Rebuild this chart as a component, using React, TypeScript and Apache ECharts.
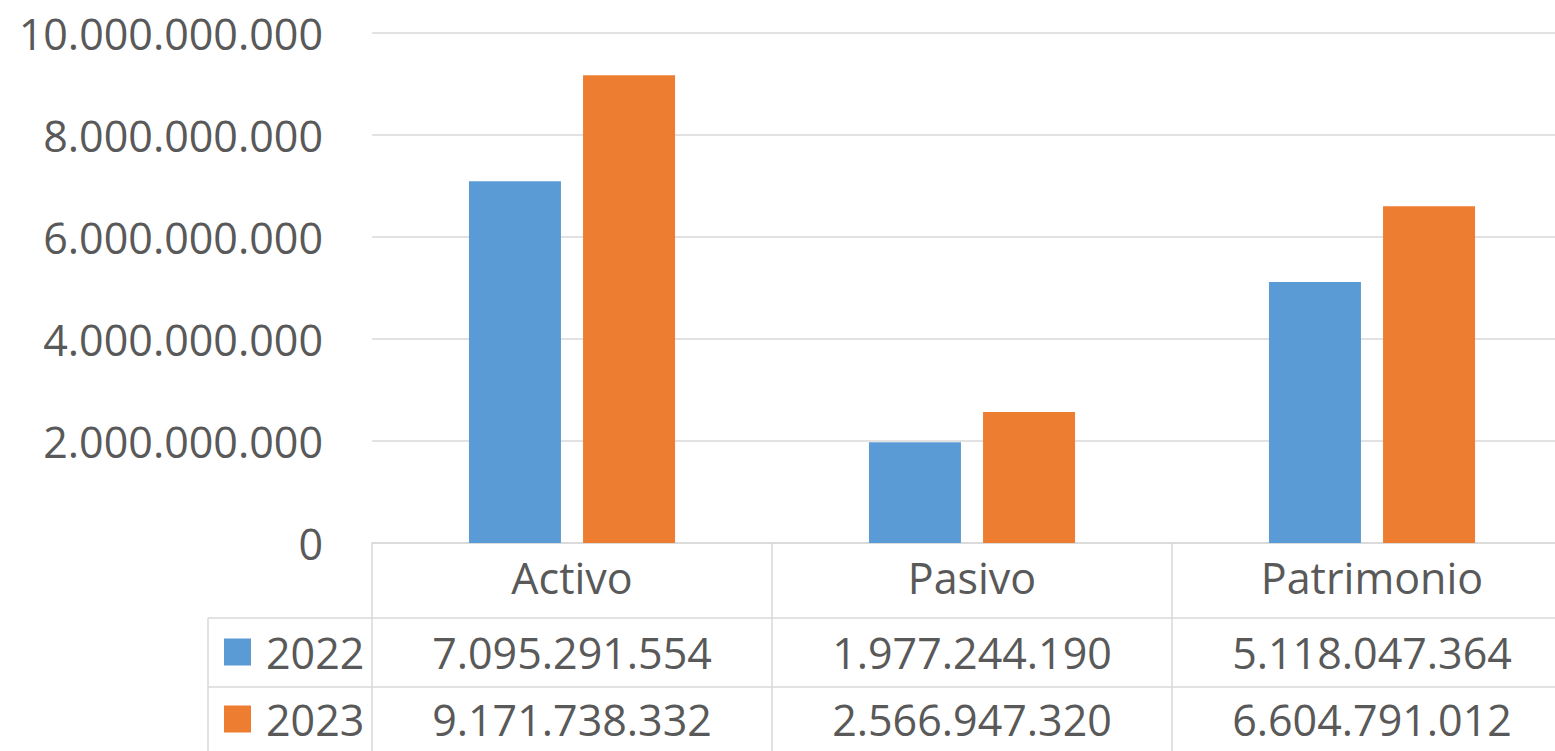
import React, { useEffect, useRef } from "react";
import * as echarts from "echarts";

const categories = ["Activo", "Pasivo", "Patrimonio"];
const seriesNames = ["2022", "2023"];
const values2022 = [7095291554, 1977244190, 5118047364];
const values2023 = [9171738332, 2566947320, 6604791012];
const colors = ["#5B9BD5", "#ED7D31"];

const FONT = "'Open Sans', sans-serif";
const TEXT_COLOR = "#595959";
const LINE_COLOR = "#D9D9D9";

function fmt(v: number): string {
  return String(Math.round(v)).replace(/\B(?=(\d{3})+(?!\d))/g, ".");
}

export default function App() {
  const ref = useRef<HTMLDivElement>(null);
  useEffect(() => {
    if (!ref.current) return;
    const chart = echarts.init(ref.current, undefined, { renderer: "svg" });
    const gridLeft = 372;
    const gridTop = 33;
    const gridHeight = 510;
    const gridWidth = 1200;
    chart.setOption({
      animation: false,
      grid: { left: gridLeft, top: gridTop, width: gridWidth, height: gridHeight, containLabel: false },
      xAxis: {
        type: "category",
        data: categories,
        axisLine: { show: true, lineStyle: { color: LINE_COLOR, width: 1.5 } },
        axisTick: { show: false },
        axisLabel: {
          color: TEXT_COLOR,
          fontFamily: FONT,
          fontSize: 43,
          lineHeight: 43,
          margin: 13,
        },
      },
      yAxis: {
        type: "value",
        min: 0,
        max: 10000000000,
        interval: 2000000000,
        axisLine: { show: false },
        axisTick: { show: false },
        splitLine: { lineStyle: { color: LINE_COLOR, width: 1.5 } },
        axisLabel: {
          color: TEXT_COLOR,
          fontFamily: FONT,
          fontSize: 43,
          margin: 49,
          formatter: (v: number) => fmt(v),
        },
      },
      series: [
        {
          name: seriesNames[0],
          type: "bar",
          data: values2022,
          barWidth: 92,
          barGap: "24%",
          itemStyle: { color: colors[0] },
        },
        {
          name: seriesNames[1],
          type: "bar",
          data: values2023,
          barWidth: 92,
          barGap: "24%",
          itemStyle: { color: colors[1] },
        },
      ],
    });

    const rowsY = [652, 719];
    const rowData = [values2022, values2023];
    const elements: any[] = [];
    const lineStyle = { stroke: LINE_COLOR, lineWidth: 1.5 };
    const right = 1600;
    elements.push({ type: "line", shape: { x1: 208, y1: 618, x2: right, y2: 618 }, style: lineStyle, silent: true });
    elements.push({ type: "line", shape: { x1: 208, y1: 687, x2: right, y2: 687 }, style: lineStyle, silent: true });
    elements.push({ type: "line", shape: { x1: 208, y1: 618, x2: 208, y2: 751 }, style: lineStyle, silent: true });
    const catCenters = categories.map((c) => chart.convertToPixel({ xAxisIndex: 0 }, c) as number);
    const half = gridWidth / categories.length / 2;
    const bounds = [catCenters[0] - half, ...catCenters.map((c) => c + half)];
    bounds.forEach((bx) => {
      elements.push({ type: "line", shape: { x1: bx, y1: 543, x2: bx, y2: 751 }, style: lineStyle, silent: true });
    });
    seriesNames.forEach((name, r) => {
      const y = rowsY[r];
      elements.push({
        type: "rect",
        shape: { x: 224, y: y - 13.5, width: 27, height: 27 },
        style: { fill: colors[r] },
        silent: true,
      });
      elements.push({
        type: "text",
        x: 266,
        y,
        style: { text: name, fill: TEXT_COLOR, font: `43px ${FONT}`, textAlign: "left", textVerticalAlign: "middle", verticalAlign: "middle" },
        silent: true,
      });
      rowData[r].forEach((v, i) => {
        elements.push({
          type: "text",
          x: catCenters[i],
          y,
          style: { text: fmt(v), fill: TEXT_COLOR, font: `43px ${FONT}`, textAlign: "center", textVerticalAlign: "middle", verticalAlign: "middle" },
          silent: true,
        });
      });
    });
    chart.setOption({ graphic: { elements } });

    return () => chart.dispose();
  }, []);
  return (
    <div style={{ position: "fixed", left: 0, top: 0, width: 1555, height: 751, overflow: "hidden", background: "#ffffff" }}>
      <div ref={ref} style={{ width: 1600, height: 751 }} />
    </div>
  );
}
